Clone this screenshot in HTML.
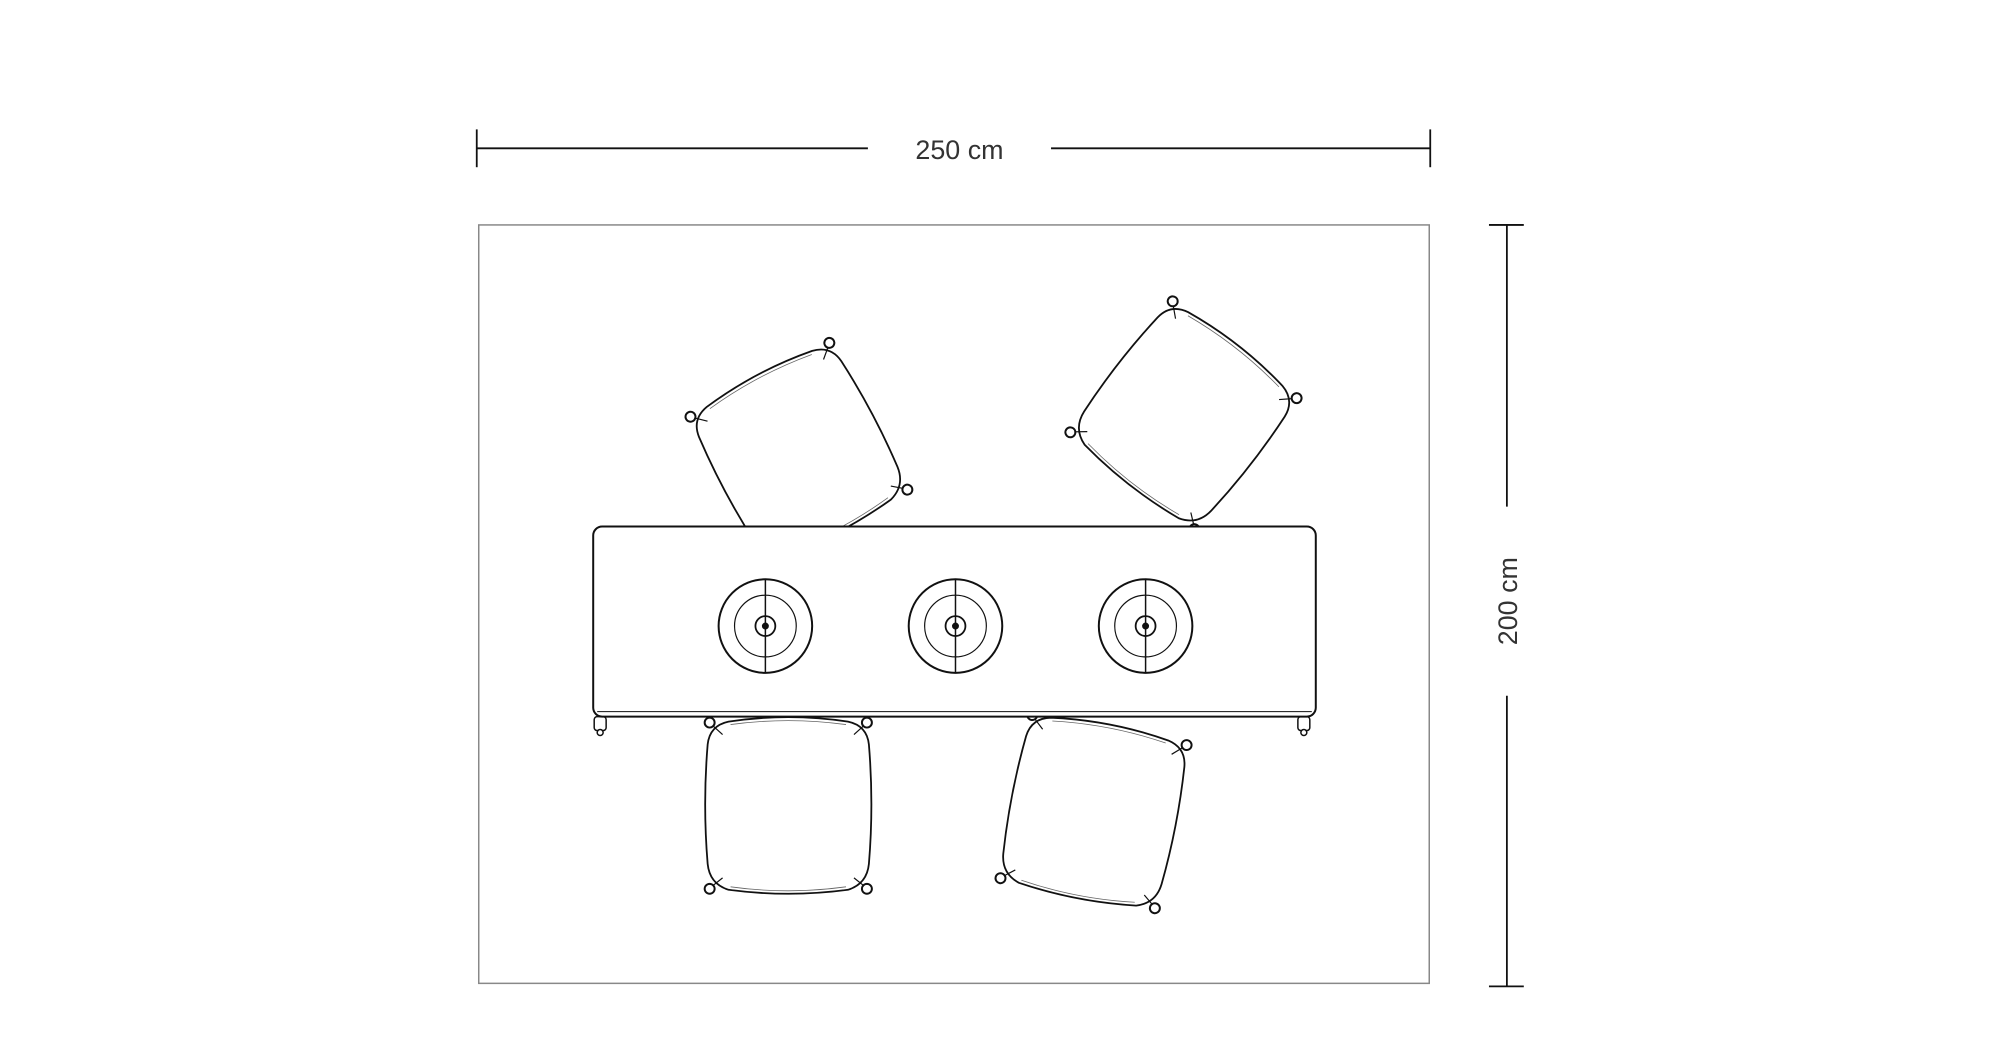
<!DOCTYPE html>
<html><head><meta charset="utf-8"><style>
html,body{margin:0;padding:0;background:#fff;}
svg{display:block;}
text{font-family:"Liberation Sans",sans-serif;font-size:27px;fill:#333;}
</style></head><body>
<svg width="2000" height="1040" viewBox="0 0 2000 1040" xmlns="http://www.w3.org/2000/svg">
<defs>
<g id="chair">
<path d="M -60,-83 Q 0,-92 60,-83 Q 79,-79 81,-60 Q 86,0 81,60 Q 79,80 60,86 Q 0,94 -60,86 Q -79,80 -81,60 Q -86,0 -81,-60 Q -79,-79 -60,-83 Z" fill="#fff" stroke="#111" stroke-width="1.8"/>
<path d="M -58,-80 Q 0,-88 58,-80 M -58,83 Q 0,91 58,83" fill="none" stroke="#666" stroke-width="0.8"/>
<g fill="#fff" stroke="#111" stroke-width="2">
<circle cx="-79" cy="-82" r="5"/><circle cx="79" cy="-82" r="5"/>
<circle cx="-79" cy="85" r="5"/><circle cx="79" cy="85" r="5"/>
</g>
<g stroke="#111" stroke-width="1.2" fill="none">
<path d="M -76,-79 L -66,-70 M 76,-79 L 66,-70 M -76,82 L -66,74 M 76,82 L 66,74"/>
</g>
</g>
</defs>
<g transform="scale(0.9953)">
<g stroke="#111" stroke-width="1.8">
<line x1="479" y1="149" x2="872" y2="149"/>
<line x1="1056" y1="149" x2="1437" y2="149"/>
<line x1="479" y1="130" x2="479" y2="168"/>
<line x1="1437" y1="130" x2="1437" y2="168"/>
</g>
<text x="964" y="160" text-anchor="middle">250 cm</text>
<g stroke="#111" stroke-width="1.8">
<line x1="1514" y1="226" x2="1514" y2="509"/>
<line x1="1514" y1="699" x2="1514" y2="991"/>
<line x1="1496" y1="226" x2="1531" y2="226"/>
<line x1="1496" y1="991" x2="1531" y2="991"/>
</g>
<text transform="translate(1524,604) rotate(-90)" text-anchor="middle">200 cm</text>
<rect x="481" y="226" width="955" height="762" fill="none" stroke="#888" stroke-width="1.5"/>
<use href="#chair" transform="translate(802,454) rotate(-28)"/>
<use href="#chair" transform="translate(1190,416) rotate(38)"/>
<use href="#chair" transform="translate(792,808)"/>
<use href="#chair" transform="translate(1099,814) rotate(11)"/>
<g fill="#fff" stroke="#111" stroke-width="1.5">
<rect x="597" y="720" width="12" height="14" rx="3"/>
<circle cx="603" cy="736" r="3"/>
<rect x="1304" y="720" width="12" height="14" rx="3"/>
<circle cx="1310" cy="736" r="3"/>
</g>
<rect x="596" y="529" width="726" height="191" rx="9" fill="#fff" stroke="#111" stroke-width="2"/>
<line x1="600" y1="715" x2="1318" y2="715" stroke="#111" stroke-width="1"/>
<g fill="none" stroke="#111">
<g transform="translate(769,629)">
<circle r="47" stroke-width="2"/><circle r="31" stroke-width="1.2"/><circle r="10" stroke-width="1.8"/><circle r="3" fill="#111"/>
<line x1="0" y1="-47" x2="0" y2="47" stroke-width="1.5"/>
</g>
<g transform="translate(960,629)">
<circle r="47" stroke-width="2"/><circle r="31" stroke-width="1.2"/><circle r="10" stroke-width="1.8"/><circle r="3" fill="#111"/>
<line x1="0" y1="-47" x2="0" y2="47" stroke-width="1.5"/>
</g>
<g transform="translate(1151,629)">
<circle r="47" stroke-width="2"/><circle r="31" stroke-width="1.2"/><circle r="10" stroke-width="1.8"/><circle r="3" fill="#111"/>
<line x1="0" y1="-47" x2="0" y2="47" stroke-width="1.5"/>
</g>
</g>
</g>
</svg>
</body></html>
